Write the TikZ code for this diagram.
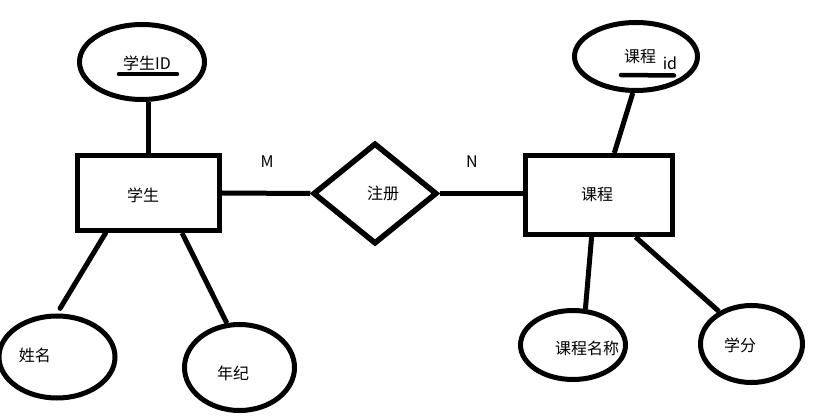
\documentclass[tikz,border=0pt]{standalone}
\usepackage{fontspec}
\newfontfamily\cjk{Noto Sans CJK SC}
\usetikzlibrary{shapes.geometric,calc}
\begin{document}
\begin{tikzpicture}[x=1pt,y=-1pt,
  every node/.style={font=\cjk\fontsize{16}{19}\selectfont},
  entity/.style={draw,line width=5pt,rectangle,inner sep=0pt},
  attr/.style={draw,line width=5pt,ellipse,inner sep=0pt},
  rel/.style={draw,line width=5.5pt,diamond,inner sep=0pt},
  link/.style={line width=5pt},
  lbl/.style={inner sep=0pt},
  key/.style={line width=4.5pt,line cap=round}]
\useasboundingbox[fill=white] (0,0) rectangle (822,419);
% entities
\node[entity,minimum width=142pt,minimum height=75pt] (stu) at (148.5,193) {};
\node[entity,minimum width=147pt,minimum height=79pt] (crs) at (599,195) {};
% relationship
\node[rel,minimum width=124pt,minimum height=101pt] (reg) at (375,193.5) {};
% attributes
\node[attr,minimum width=125pt,minimum height=75pt] (sid) at (142,62) {};
\node[attr,minimum width=116pt,minimum height=82pt] (xm) at (57,357) {};
\node[attr,minimum width=110pt,minimum height=86pt] (nl) at (239.5,367.5) {};
\node[attr,minimum width=123pt,minimum height=68pt] (cid) at (636,56.5) {};
\node[attr,minimum width=105pt,minimum height=69pt] (kcmc) at (573,345) {};
\node[attr,minimum width=102pt,minimum height=77pt] (xf) at (751.5,344) {};
% texts
\node[lbl] (tsid) at (147,63) {学生ID};
\node[lbl] (tstu) at (143,195) {学生};
\node[lbl] (treg) at (383,193) {注册};
\node[lbl] (tcrs) at (597,195) {课程};
\node[lbl] (tcid) at (640,57) {课程};
\node[lbl] (tid) at (670,63) {id};
\node[lbl] (txm) at (35,355) {姓名};
\node[lbl] (tnl) at (233,373) {年纪};
\node[lbl] (tkcmc) at (587,348) {课程名称};
\node[lbl] (txf) at (740,345) {学分};
\node[lbl] (tm) at (267,162) {M};
\node[lbl] (tn) at (472,162) {N};
% key underlines
\draw[key] (119,74) -- (177,74);
\draw[key] (621,75) -- (674,75.5);
% connectors
\draw[link] (stu.north) -- (stu.north |- sid.south);
\draw[link] (stu.east) -- (reg.west);
\draw[link] (reg.east) -- (reg.east -| crs.west);
\draw[link,line cap=round,shorten >=6pt] (stu.-137) -- (xm.north);
\draw[link] (stu.-50) -- (nl.106);
\draw[link] (crs.70) -- (cid.-95);
\draw[link] (crs.-100) -- (kcmc.71);
\draw[link] (crs.-49) -- (xf.135);
\end{tikzpicture}
\end{document}
